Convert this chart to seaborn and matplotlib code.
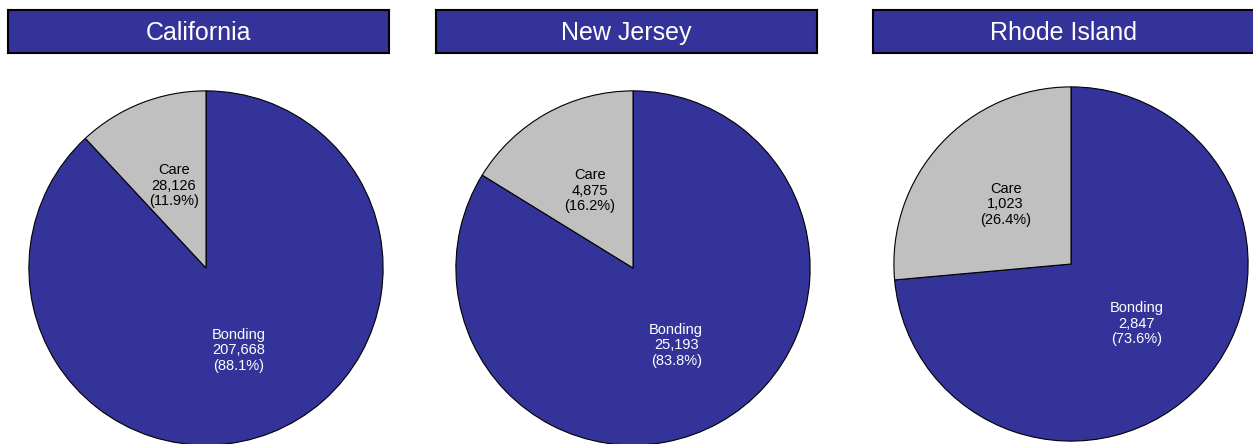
import matplotlib
matplotlib.use("Agg")
import matplotlib.pyplot as plt
import seaborn as sns

# Data
states = ["California", "New Jersey", "Rhode Island"]
categories = ["Bonding", "Care"]
bonding = [207668, 25193, 2847]
care = [28126, 4875, 1023]

BLUE = "#333399"
GRAY = "#C0C0C0"

W, H = 1253, 444


def px_axes(fig, x, y, w, h):
    # pixel box (top-left origin) -> figure fraction
    return fig.add_axes([x / W, (H - y - h) / H, w / W, h / H])


def main():
    sns.set_style("white")
    plt.rcParams["font.family"] = ["Liberation Sans", "DejaVu Sans"]

    fig = plt.figure(figsize=(W / 100, H / 100), dpi=100)

    title_x = [8, 436, 873]
    pie_cx = [206, 633, 1071]
    pie_cy = [268, 268, 264]
    r = 178

    for i, state in enumerate(states):
        # title box
        tax = px_axes(fig, title_x[i], 10, 381, 43)
        tax.set_facecolor(BLUE)
        tax.set_xticks([])
        tax.set_yticks([])
        for sp in tax.spines.values():
            sp.set_visible(True)
            sp.set_color("black")
            sp.set_linewidth(1.5)
        tax.text(0.5, 0.47, state, color="white", fontsize=18,
                 ha="center", va="center", transform=tax.transAxes)

        # pie
        vals = [bonding[i], care[i]]
        total = sum(vals)
        labels = [f"{c}\n{v:,}\n({v / total * 100:.1f}%)"
                  for c, v in zip(categories, vals)]
        ax = px_axes(fig, pie_cx[i] - r, pie_cy[i] - r, 2 * r, 2 * r)
        wedges, texts = ax.pie(
            vals, labels=labels, colors=[BLUE, GRAY], startangle=90,
            counterclock=False, labeldistance=0.5, radius=1,
            wedgeprops=dict(edgecolor="black", linewidth=0.8),
            textprops=dict(fontsize=10.5, ha="center", va="center",
                           linespacing=1.15),
        )
        texts[0].set_color("white")
        texts[1].set_color("black")
        ax.set_xlim(-1.005, 1.005)
        ax.set_ylim(-1.005, 1.005)
        ax.set_aspect("equal")
        ax.axis("off")

    fig.savefig("out.png", dpi=100)
    plt.close(fig)


if __name__ == "__main__":
    main()
